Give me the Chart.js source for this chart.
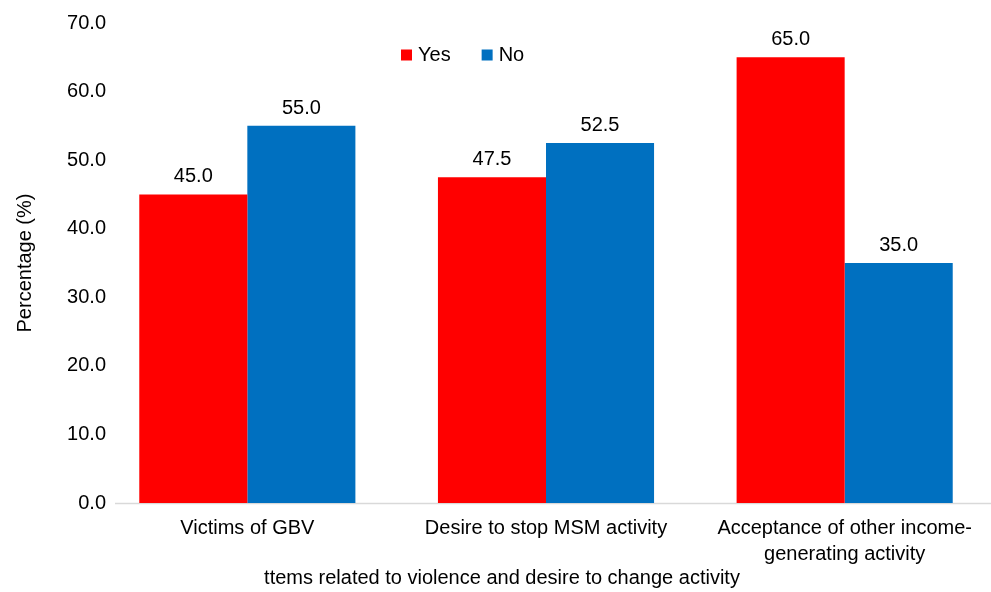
<!DOCTYPE html>
<html>
<head>
<meta charset="utf-8">
<script src="https://cdn.jsdelivr.net/npm/chart.js@4/dist/chart.umd.min.js"></script>
<style>
  html, body { margin: 0; padding: 0; background: #fff; overflow: hidden; }
  #wrap { width: 995px; height: 592px; }
</style>
</head>
<body>
<div id="wrap"><canvas id="c" width="995" height="592"></canvas></div>
<script>
const categories = [
  'Victims of GBV',
  'Desire to stop MSM activity',
  ['Acceptance of other income-', 'generating activity']
];
const yesValues = [45.0, 47.5, 65.0];
const noValues = [55.0, 52.5, 35.0];
const seriesNames = ['Yes', 'No'];
const yTickMax = 70;
const yTickStep = 10;
const xAxisTitle = 'ttems related to violence and desire to change activity';
const yAxisTitle = 'Percentage (%)';

const FONT = "'Liberation Sans', Arial, sans-serif";
const FONT_SIZE = 20;

// Numeric labels above each bar
const valueLabels = {
  id: 'valueLabels',
  afterDatasetsDraw(chart) {
    const ctx = chart.ctx;
    ctx.save();
    ctx.font = FONT_SIZE + 'px ' + FONT;
    ctx.fillStyle = '#000';
    ctx.textAlign = 'center';
    ctx.textBaseline = 'alphabetic';
    chart.data.datasets.forEach((ds, i) => {
      chart.getDatasetMeta(i).data.forEach((bar, j) => {
        ctx.fillText(ds.data[j].toFixed(1), bar.x, bar.y - 12);
      });
    });
    ctx.restore();
  }
};

// Y tick labels, right-aligned just inside the left edge of the plot
const yTickLabels = {
  id: 'yTickLabels',
  afterDraw(chart) {
    const ctx = chart.ctx;
    const y = chart.scales.y;
    ctx.save();
    ctx.font = FONT_SIZE + 'px ' + FONT;
    ctx.fillStyle = '#000';
    ctx.textAlign = 'right';
    ctx.textBaseline = 'middle';
    y.ticks.forEach(t => {
      ctx.fillText(t.value.toFixed(1), 106, y.getPixelForValue(t.value));
    });
    ctx.restore();
  }
};

// Category-axis title, centred under the labelled area
const xTitle = {
  id: 'xTitle',
  afterDraw(chart) {
    const ctx = chart.ctx;
    ctx.save();
    ctx.font = FONT_SIZE + 'px ' + FONT;
    ctx.fillStyle = '#000';
    ctx.textAlign = 'center';
    ctx.textBaseline = 'middle';
    ctx.fillText(xAxisTitle, 502, 578);
    ctx.restore();
  }
};

// Light baseline along the category axis
const baseline = {
  id: 'baseline',
  beforeDatasetsDraw(chart) {
    const ctx = chart.ctx;
    const y = chart.scales.y.getPixelForValue(0);
    ctx.save();
    ctx.strokeStyle = '#d9d9d9';
    ctx.lineWidth = 1.5;
    ctx.beginPath();
    ctx.moveTo(115, y + 0.5);
    ctx.lineTo(chart.width, y + 0.5);
    ctx.stroke();
    ctx.restore();
  }
};

// Horizontal legend placed inside the plot area near the top
const insideLegend = {
  id: 'insideLegend',
  afterDraw(chart) {
    const ctx = chart.ctx;
    ctx.save();
    ctx.font = FONT_SIZE + 'px ' + FONT;
    ctx.textBaseline = 'middle';
    ctx.textAlign = 'left';
    let x = 401;
    const cy = 55;
    chart.data.datasets.forEach(ds => {
      ctx.fillStyle = ds.backgroundColor;
      ctx.fillRect(x, cy - 5.5, 11, 11);
      ctx.fillStyle = '#000';
      ctx.fillText(ds.label, x + 17, cy);
      x += 17 + ctx.measureText(ds.label).width + 31;
    });
    ctx.restore();
  }
};

new Chart(document.getElementById('c'), {
  type: 'bar',
  data: {
    labels: categories,
    datasets: [
      { label: seriesNames[0], data: yesValues, backgroundColor: '#FF0000' },
      { label: seriesNames[1], data: noValues, backgroundColor: '#0070C0' }
    ]
  },
  options: {
    responsive: false,
    animation: false,
    devicePixelRatio: 1,
    layout: { padding: { top: 23, right: 1, left: 0, bottom: 0 } },
    datasets: { bar: { categoryPercentage: 0.7236, barPercentage: 1.0 } },
    plugins: {
      legend: { display: false },
      tooltip: { enabled: false }
    },
    scales: {
      x: {
        grid: { display: false, drawTicks: false },
        border: { display: false },
        ticks: {
          font: { family: FONT, size: FONT_SIZE, lineHeight: 1.3 },
          color: '#000',
          padding: 12,
          maxRotation: 0,
          autoSkip: false
        },
        title: { display: false },
        afterFit(scale) { scale.height = 89; }
      },
      y: {
        min: 0,
        max: yTickMax,
        grid: { display: false, drawTicks: false },
        border: { display: false },
        ticks: {
          stepSize: yTickStep,
          display: false
        },
        title: {
          display: true,
          text: yAxisTitle,
          font: { family: FONT, size: FONT_SIZE },
          color: '#000',
          padding: { top: 13, bottom: 0 }
        },
        afterFit(scale) { scale.width = 98; }
      }
    }
  },
  plugins: [valueLabels, yTickLabels, baseline, insideLegend, xTitle]
});
</script>
</body>
</html>
